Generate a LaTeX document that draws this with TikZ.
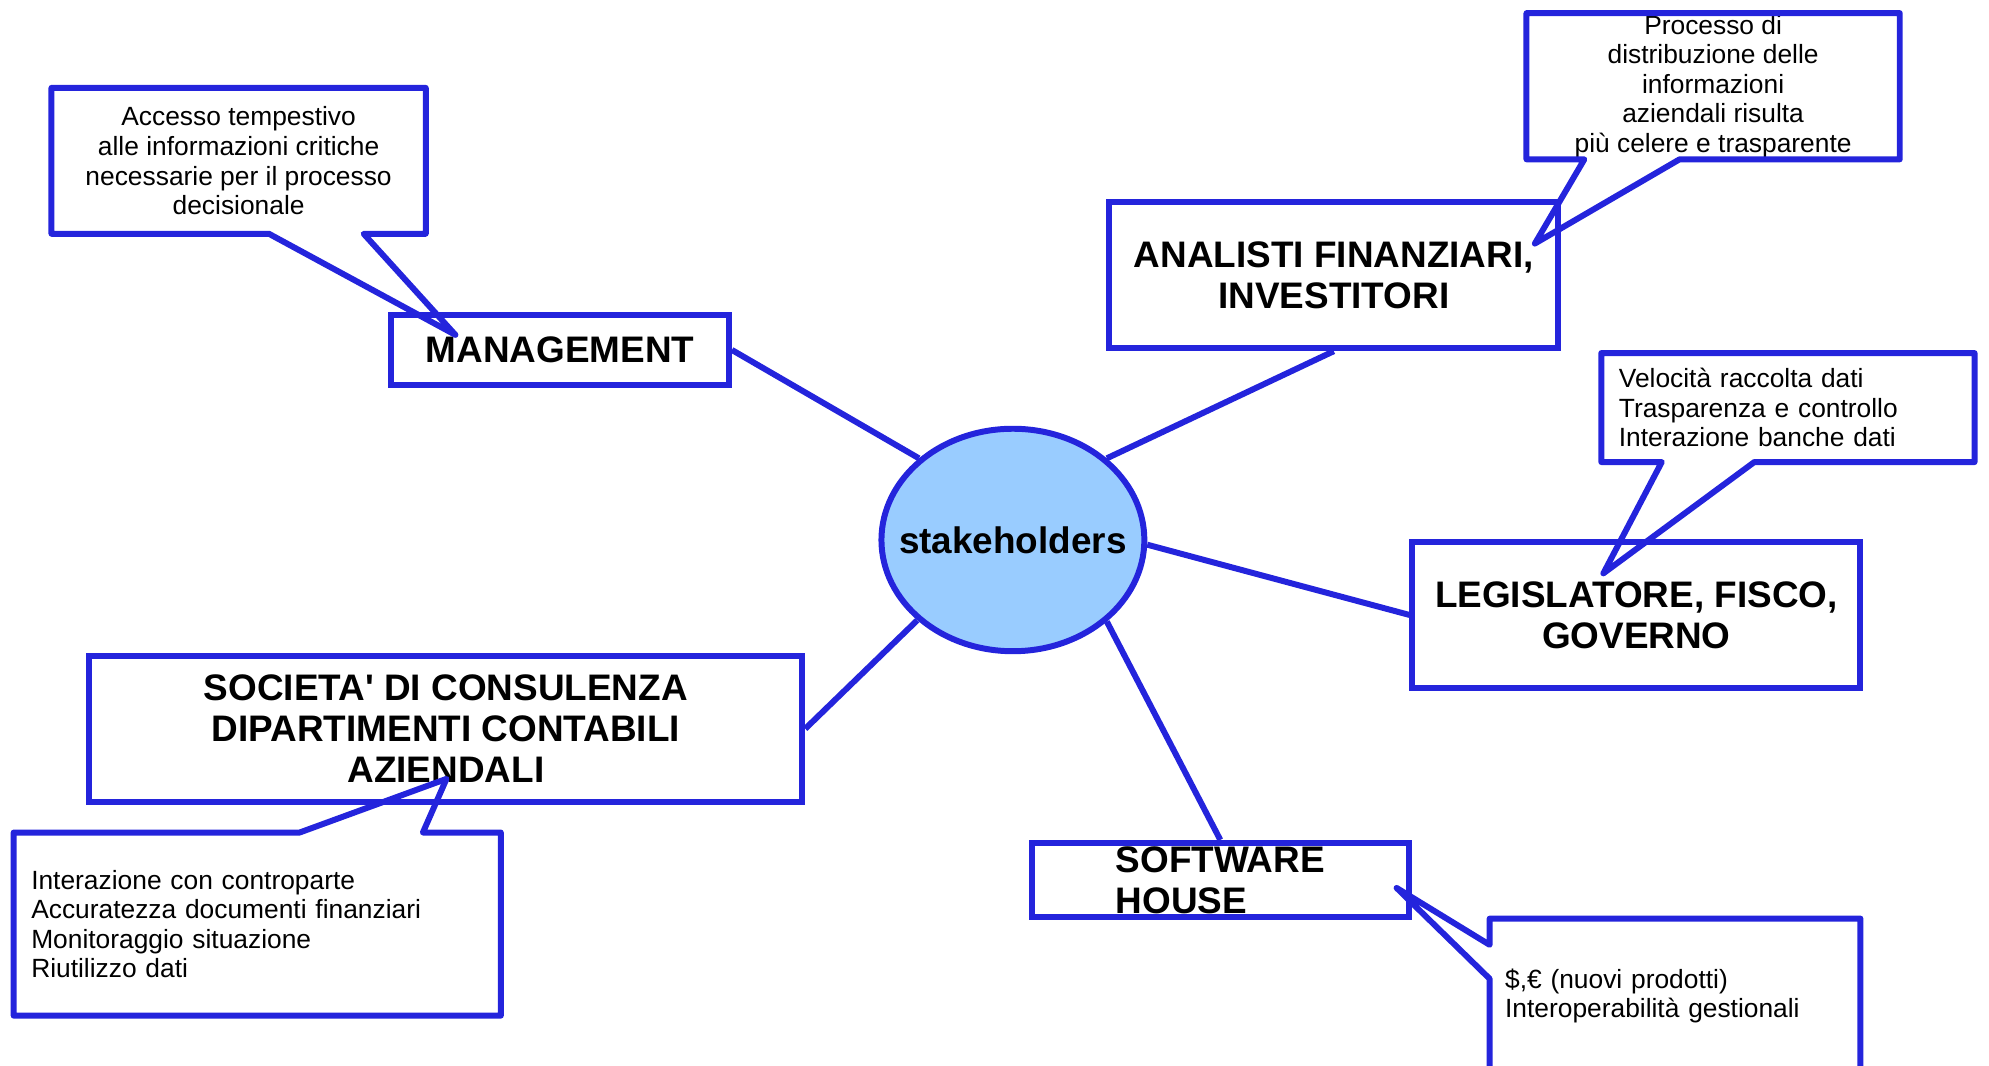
\documentclass[tikz,border=0pt]{standalone}
\usepackage{fontspec}
\setmainfont{Liberation Sans}
\usetikzlibrary{calc, shapes.geometric}
\definecolor{mapblue}{RGB}{36,36,220}
\definecolor{hubfill}{RGB}{153,204,255}

\begin{document}
\begin{tikzpicture}[x=0.12685mm, y=-0.12685mm,
  topic/.style={draw=mapblue, line width=1.7pt, inner sep=0pt, align=center,
    font=\fontsize{10.5}{11.7}\selectfont\bfseries},
  hub/.style={ellipse, draw=mapblue, fill=hubfill, line width=1.7pt,
    minimum width=74.8pt, minimum height=63.3pt, inner xsep=-8pt, inner ysep=0pt,
    font=\fontsize{10.5}{11.7}\selectfont\bfseries},
  note/.style={inner sep=0pt, outer sep=0pt, align=center,
    font=\fontsize{7.5}{8.4}\selectfont},
  listnote/.style={note, align=left, inner xsep=5pt},
  bubble/.style={draw=mapblue, line width=1.7pt, line join=round},
  link/.style={draw=mapblue, line width=1.7pt}]
\useasboundingbox (0,0) rectangle (1568,840);

\node[hub] (stake) at (798.5,425.7) {stakeholders};
\node[topic, minimum width=96.1pt, minimum height=20.1pt] (mgmt) at (441.5,275.9) {MANAGEMENT};
\node[topic, minimum width=127.8pt, minimum height=41.5pt] (anal) at (1051.5,217) {ANALISTI FINANZIARI,\\INVESTITORI};
\node[topic, minimum width=127.4pt, minimum height=41.5pt] (legis) at (1290,484.8) {LEGISLATORE, FISCO,\\GOVERNO};
\node[topic, minimum width=202.8pt, minimum height=41.5pt] (soc) at (351.5,574.5) {SOCIETA\textquotesingle{} DI CONSULENZA\\DIPARTIMENTI CONTABILI\\AZIENDALI};
\node[topic, align=left, minimum width=107.3pt, minimum height=21.1pt] (swh) at (962,693.7) {SOFTWARE\\HOUSE};

\foreach \a/\b in {139/mgmt.east, 41/anal.south, -2/legis.west, 220/soc.east, -41/swh.north}
  \draw[link] (stake.\a) -- (\b);

\node[note, minimum width=106.5pt, minimum height=41.5pt] (mgnote) at (188.1,126.8)
  {Accesso tempestivo\\alle informazioni critiche\\necessarie per il processo\\decisionale};
\node[note, minimum width=106.2pt, minimum height=41.6pt] (annote) at (1350.5,68)
  {Processo di\\distribuzione delle\\informazioni\\aziendali risulta\\più celere e trasparente};
\node[listnote, text width=96.2pt, minimum height=31pt] (lgnote) at (1409.5,321.3)
  {Velocità raccolta dati\\Trasparenza e controllo\\Interazione banche dati};
\node[listnote, text width=128.6pt, minimum height=52.1pt] (scnote) at (202.8,728.5)
  {Interazione con controparte\\Accuratezza documenti finanziari\\Monitoraggio situazione\\Riutilizzo dati};
\node[listnote, inner xsep=4.4pt, text width=96.7pt, minimum height=43.9pt] (swnote) at (1320.5,785)
  {\$,€ (nuovi prodotti)\\Interoperabilità gestionali};

\coordinate (mgtip) at (359,264);
\coordinate (antip) at (1210,192);
\coordinate (lgtip) at (1264,452);
\coordinate (sctip) at (352,614);
\coordinate (swtip) at (1101,700);

\draw[bubble] (mgnote.south west) -- (mgnote.north west) -- (mgnote.north east) -- (mgnote.south east)
  -- ($(mgnote.south west)!0.834!(mgnote.south east)$) -- (mgtip)
  -- ($(mgnote.south west)!0.581!(mgnote.south east)$) -- cycle;
\draw[bubble] (annote.south west) -- (annote.north west) -- (annote.north east) -- (annote.south east)
  -- ($(annote.south west)!0.41!(annote.south east)$) -- (antip)
  -- ($(annote.south west)!0.155!(annote.south east)$) -- cycle;
\draw[bubble] (lgnote.south west) -- (lgnote.north west) -- (lgnote.north east) -- (lgnote.south east)
  -- ($(lgnote.south west)!0.41!(lgnote.south east)$) -- (lgtip)
  -- ($(lgnote.south west)!0.162!(lgnote.south east)$) -- cycle;
\draw[bubble] (scnote.north west) -- ($(scnote.north west)!0.587!(scnote.north east)$) -- (sctip)
  -- ($(scnote.north west)!0.84!(scnote.north east)$) -- (scnote.north east)
  -- (scnote.south east) -- (scnote.south west) -- cycle;
\draw[bubble] (swnote.north west) -- (swnote.north east) -- (swnote.south east) -- (swnote.south west)
  -- ($(swnote.north west)!0.39!(swnote.south west)$) -- (swtip)
  -- ($(swnote.north west)!0.17!(swnote.south west)$) -- cycle;
\end{tikzpicture}
\end{document}
